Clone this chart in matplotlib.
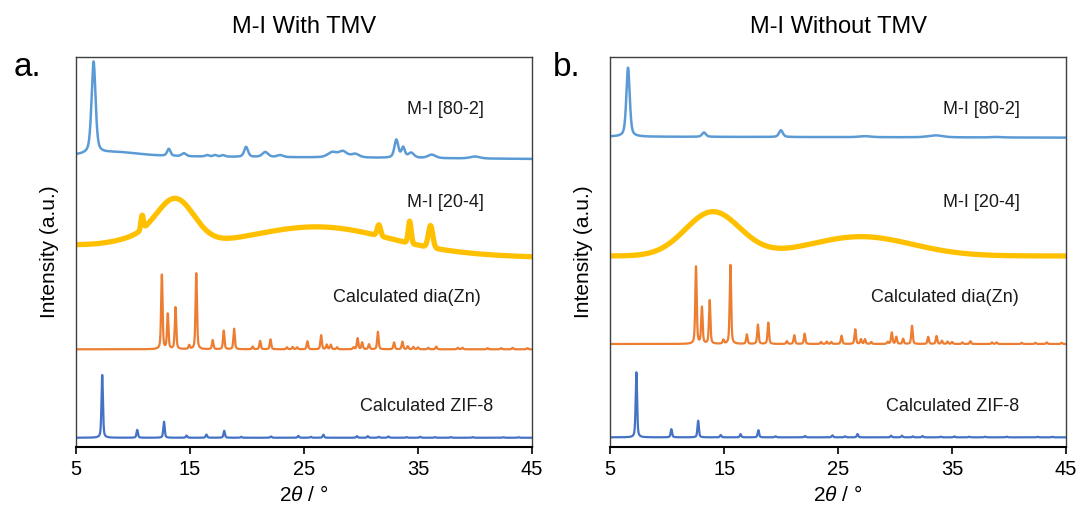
import numpy as np
import matplotlib.pyplot as plt

plt.rcParams['font.family'] = ['Liberation Sans', 'DejaVu Sans']
plt.rcParams['mathtext.fontset'] = 'custom'
plt.rcParams['mathtext.it'] = 'Liberation Sans:italic'


def pseudo_voigt(x, pos, height, fwhm, eta):
    y = np.zeros_like(x)
    for c, h, w in zip(pos, height, fwhm):
        lor = 1.0 / (1.0 + (2 * (x - c) / w) ** 2)
        gau = np.exp(-4 * np.log(2) * ((x - c) / w) ** 2)
        y += h * (eta * lor + (1 - eta) * gau)
    return y


two_theta = np.linspace(5, 45, 4001)

# calculated ZIF-8 (relative intensity, strongest = 100)
zif8_pos = [7.30, 10.37, 12.72, 14.70, 16.44, 18.00, 19.50, 22.10, 24.50, 25.60, 26.70,
            29.65, 30.60, 31.55, 32.40, 34.00, 35.20, 36.50, 37.90, 39.80, 42.50, 43.80]
zif8_int = [100, 12.5, 25.5, 3.5, 5, 11, 1.5, 2, 3, 1.5, 5,
            2.5, 2.5, 1.5, 2, 1, 1.5, 1, 1, 1, 0.8, 0.8]

# calculated dia(Zn) (relative intensity, strongest = 100)
dia_pos = [12.53, 13.05, 13.73, 14.93, 15.55, 16.99, 17.96, 18.87, 20.50, 21.15, 22.06,
           23.50, 24.00, 24.40, 25.30, 26.50, 27.00, 27.35, 27.90, 29.35, 29.70, 30.10,
           30.70, 31.48, 32.90, 33.63, 34.10, 34.60, 35.00, 35.90, 36.60, 38.50, 38.90,
           41.10, 42.30, 43.30, 44.60]
dia_int = [97.8, 46, 55, 5, 100, 12, 24.5, 27, 3.5, 11, 13,
           2.5, 3, 2.5, 10.5, 18.5, 6, 6, 2.5, 2.5, 14.5, 9,
           6.5, 23, 9, 10, 4, 3, 2.5, 2, 3.5, 2, 2,
           1.5, 1.5, 2, 1.5]

# M-I [80-2] with TMV: position, height, fwhm
a_802_pos = [6.54, 8.50, 13.14, 14.46, 16.50, 17.20, 17.90, 19.92, 21.60, 22.90,
             27.46, 28.40, 29.50, 33.10, 33.70, 34.40, 36.20, 40.00]
a_802_h = [92, 4, 7, 3, 1.5, 1.5, 1.5, 10, 5, 2,
           5, 6, 3.5, 18, 10, 5, 3.5, 2]
a_802_w = [0.42, 5.0, 0.35, 0.45, 0.4, 0.4, 0.4, 0.40, 0.6, 0.6,
           0.9, 0.9, 0.8, 0.40, 0.35, 0.6, 0.8, 1.0]

# M-I [20-4] with TMV
a_204_pos = [11.50, 13.80, 26.50, 10.80, 31.57, 34.27, 36.10]
a_204_h = [10, 40, 24.5, 14, 11, 22, 22]
a_204_w = [5.9, 3.8, 14.1, 0.25, 0.35, 0.30, 0.45]

# M-I [80-2] without TMV
b_802_pos = [6.57, 13.23, 19.98, 27.36, 33.54, 38.90]
b_802_h = [69, 4.3, 6.7, 1, 2, 0.5]
b_802_w = [0.35, 0.40, 0.40, 1.2, 1.5, 1.0]

# M-I [20-4] without TMV
b_204_pos = [14.00, 27.00]
b_204_h = [44, 19.3]
b_204_w = [5.65, 10.6]

# baselines (start, end) and scales for stacking
a_base = {'zif': (9.3, 9.3), 'dia': (97.7, 97.7), '204': (202, 190), '802': (291, 288)}
b_base = {'zif': (9.7, 9.7), 'dia': (103, 103), '204': (191, 191), '802': (310.3, 309.3)}
a_scale = {'zif': 0.627, 'dia': 0.76}
b_scale = {'zif': 0.65, 'dia': 0.79}

c_802 = '#5B9BD5'
c_204 = '#FFC000'
c_dia = '#ED7D31'
c_zif = '#4472C4'

fig = plt.figure(figsize=(10.78, 5.08), dpi=100)
ax_a = fig.add_axes([0.0705, 0.120, 0.423, 0.768])
ax_b = fig.add_axes([0.566, 0.120, 0.423, 0.768])


def baseline(b):
    return b[0] + (b[1] - b[0]) * (two_theta - 5) / 40.0


def draw(ax, base, scale, p802, p204, lab):
    y_zif = baseline(base['zif']) + scale['zif'] * pseudo_voigt(two_theta, zif8_pos, zif8_int, [0.15] * len(zif8_pos), 0.5)
    y_dia = baseline(base['dia']) + scale['dia'] * pseudo_voigt(two_theta, dia_pos, dia_int, [0.15] * len(dia_pos), 0.5)
    y_204 = baseline(base['204']) + pseudo_voigt(two_theta, *p204, 0.0)
    y_802 = baseline(base['802']) + pseudo_voigt(two_theta, *p802, 0.5)

    ax.plot(two_theta, y_zif, color=c_zif, lw=1.6)
    ax.plot(two_theta, y_dia, color=c_dia, lw=1.6)
    ax.plot(two_theta, y_204, color=c_204, lw=3.8)
    ax.plot(two_theta, y_802, color=c_802, lw=1.8)

    fs = 13
    ax.text(lab[0], 337, 'M-I [80-2]', ha='center', va='center', fontsize=fs, color='#1a1a1a')
    ax.text(lab[0], 244, 'M-I [20-4]', ha='center', va='center', fontsize=fs, color='#1a1a1a')
    ax.text(lab[1], 149.7, 'Calculated dia(Zn)', ha='center', va='center', fontsize=fs, color='#1a1a1a')
    ax.text(lab[2], 40.3, 'Calculated ZIF-8', ha='center', va='center', fontsize=fs, color='#1a1a1a')

    ax.set_xlim(5, 45)
    ax.set_ylim(0, 390)
    ax.set_xticks([5, 15, 25, 35, 45])
    ax.set_yticks([])
    ax.tick_params(axis='x', direction='out', length=5, width=1.2, labelsize=14.5, pad=4)
    for s in ['left', 'right', 'top']:
        ax.spines[s].set_color('#404040')
        ax.spines[s].set_linewidth(1.0)
    ax.spines['bottom'].set_color('black')
    ax.spines['bottom'].set_linewidth(1.5)
    ax.set_xlabel(r'2$\it{\theta}$ / °', fontsize=15, labelpad=5)
    ax.set_ylabel('Intensity (a.u.)', fontsize=15, labelpad=12)


draw(ax_a, a_base, a_scale, (a_802_pos, a_802_h, a_802_w), (a_204_pos, a_204_h, a_204_w), (37.4, 34.0, 35.8))
draw(ax_b, b_base, b_scale, (b_802_pos, b_802_h, b_802_w), (b_204_pos, b_204_h, b_204_w), (37.6, 34.4, 35.0))

ax_a.set_title('M-I With TMV', fontsize=17, pad=17)
ax_b.set_title('M-I Without TMV', fontsize=17, pad=17)
fig.text(27 / 1078, 1 - 68 / 508, 'a.', fontsize=24, ha='center', va='center')
fig.text(567 / 1078, 1 - 68 / 508, 'b.', fontsize=24, ha='center', va='center')

fig.savefig('out.png', dpi=100)
